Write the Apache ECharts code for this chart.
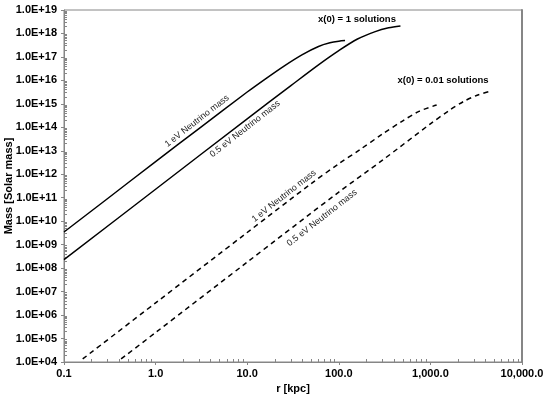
<!DOCTYPE html>
<html><head><meta charset="utf-8">
<script src="https://cdn.jsdelivr.net/npm/echarts@6/dist/echarts.min.js"></script>
<style>html,body{margin:0;padding:0;background:#fff}#c{width:546px;height:397px}</style>
</head><body><div id="c"></div><script>
// x(0) = 1 solutions
const rSolid1 = [0.1, 0.3, 1, 3, 10, 16, 25, 40, 60, 80, 100, 117];
const mSolid1 = [3.47e9, 9.3e10, 3.47e12, 9.1e13, 3.2e15, 1.2e16, 4.0e16, 1.26e17, 2.8e17, 4.0e17, 4.7e17, 5.0e17];
const rSolid2 = [0.1, 1, 10, 30, 60, 100, 160, 250, 350, 471];
const mSolid2 = [2.3e8, 2.3e11, 2.3e14, 6.0e15, 4.6e16, 1.86e17, 5.8e17, 1.2e18, 1.74e18, 2.1e18];
// x(0) = 0.01 solutions
const rDash1 = [0.16, 1, 10, 50, 100, 170, 300, 500, 750, 1170];
const mDash1 = [1.35e4, 3.3e6, 3.3e9, 4.0e11, 2.8e12, 1.12e13, 5.2e13, 1.9e14, 4.8e14, 8.9e14];
const rDash2 = [0.42, 1, 10, 100, 300, 1000, 1600, 2300, 3300, 4700];
const mDash2 = [1.35e4, 1.8e5, 1.8e8, 1.74e11, 4.0e12, 1.41e14, 5.2e14, 1.26e15, 2.4e15, 3.6e15];

const xMin = 0.1, xMax = 10000, yMin = 1e4, yMax = 1e19;
const xTickValues = [0.1, 1, 10, 100, 1000, 10000];
const xTickLabels = ['0.1', '1.0', '10.0', '100.0', '1,000.0', '10,000.0'];
const yExpMin = 4, yExpMax = 19;

const zip = (a, b) => a.map((v, i) => [v, b[i]]);
const minorLog = (d0, d1) => { const out = []; for (let d = d0; d < d1; d++) for (let k = 2; k <= 9; k++) out.push(Math.log10(k) + d); return out; };

const gray = '#868686';
const lbl = {fontFamily: 'Liberation Sans, Arial', fontWeight: 'bold', fontSize: 11, color: '#000'};
const nameStyle = {fontFamily: 'Liberation Sans, Arial', fontWeight: 'bold', fontSize: 11, color: '#000'};
const hiddenBase = {axisLine: {show: false, onZero: false}, splitLine: {show: false}};
const chart = echarts.init(document.getElementById('c'), null, {renderer: 'canvas'});
chart.setOption({
  animation: false,
  backgroundColor: '#fff',
  grid: {left: 64, right: 24, top: 10, bottom: 35, show: true, borderColor: gray, borderWidth: 1, containLabel: false, outerBoundsMode: 'none'},
  xAxis: [{
    type: 'log', logBase: 10, min: xMin, max: xMax, splitNumber: 5,
    axisLine: {show: true, onZero: false, lineStyle: {color: gray}},
    axisTick: {show: true, length: 3, lineStyle: {color: gray}},
    splitLine: {show: false},
    axisLabel: Object.assign({margin: 6, formatter: v => { const i = xTickValues.findIndex(t => Math.abs(Math.log10(t) - Math.log10(v)) < 1e-6); return i >= 0 ? xTickLabels[i] : ''; }}, lbl),
    name: 'r [kpc]', nameLocation: 'middle', nameGap: 21, nameTextStyle: nameStyle
  }, Object.assign({
    type: 'value', min: -1, max: 4, position: 'bottom', axisLabel: {show: false},
    axisTick: {show: true, inside: true, length: 3, customValues: minorLog(-1, 4), lineStyle: {color: gray}}
  }, hiddenBase)],
  yAxis: [{
    type: 'log', logBase: 10, min: yMin, max: yMax,
    axisLine: {show: true, onZero: false, lineStyle: {color: gray}},
    axisTick: {show: false}, axisLabel: {show: false},
    splitLine: {show: false},
    name: 'Mass [Solar mass]', nameLocation: 'middle', nameGap: 50, nameTextStyle: nameStyle
  }, Object.assign({
    type: 'value', min: yExpMin, max: yExpMax, interval: 1, position: 'left',
    axisTick: {show: true, length: 3, lineStyle: {color: gray}},
    axisLabel: Object.assign({margin: 7, formatter: v => '1.0E+' + String(Math.round(v)).padStart(2, '0')}, lbl)
  }, hiddenBase), Object.assign({
    type: 'value', min: yExpMin, max: yExpMax, position: 'left', axisLabel: {show: false},
    axisTick: {show: true, inside: true, length: 3, customValues: minorLog(yExpMin, yExpMax), lineStyle: {color: gray}}
  }, hiddenBase), {
    type: 'value', min: yExpMin, max: yExpMax, position: 'right',
    axisLine: {show: true, onZero: false, lineStyle: {color: gray, width: 2}},
    axisTick: {show: false}, axisLabel: {show: false}, splitLine: {show: false}
  }],
  series: [
    {name: '1 eV, x(0)=1', type: 'line', data: zip(rSolid1, mSolid1), smooth: 0.3, showSymbol: false, lineStyle: {color: '#000', width: 1.5}},
    {name: '0.5 eV, x(0)=1', type: 'line', data: zip(rSolid2, mSolid2), smooth: 0.3, showSymbol: false, lineStyle: {color: '#000', width: 1.5}},
    {name: '1 eV, x(0)=0.01', type: 'line', data: zip(rDash1, mDash1), smooth: 0.3, showSymbol: false, lineStyle: {color: '#000', width: 1.5, type: [5, 4]}},
    {name: '0.5 eV, x(0)=0.01', type: 'line', data: zip(rDash2, mDash2), smooth: 0.3, showSymbol: false, lineStyle: {color: '#000', width: 1.5, type: [5, 4]}}
  ],
  graphic: [
    {type: 'text', x: 357, y: 19, style: {text: 'x(0) = 1 solutions', font: 'bold 9.5px Liberation Sans, Arial', fill: '#000', align: 'center', verticalAlign: 'middle'}},
    {type: 'text', x: 443, y: 80, style: {text: 'x(0) = 0.01 solutions', font: 'bold 9.5px Liberation Sans, Arial', fill: '#000', align: 'center', verticalAlign: 'middle'}},
    {type: 'text', x: 197, y: 121, rotation: 38 * Math.PI / 180, style: {text: '1 eV Neutrino mass', font: '9px Liberation Sans, Arial', fill: '#222', align: 'center', verticalAlign: 'middle'}},
    {type: 'text', x: 245, y: 129, rotation: 38 * Math.PI / 180, style: {text: '0.5 eV Neutrino mass', font: '9px Liberation Sans, Arial', fill: '#222', align: 'center', verticalAlign: 'middle'}},
    {type: 'text', x: 284, y: 196, rotation: 38 * Math.PI / 180, style: {text: '1 eV Neutrino mass', font: '9px Liberation Sans, Arial', fill: '#222', align: 'center', verticalAlign: 'middle'}},
    {type: 'text', x: 322, y: 218, rotation: 38 * Math.PI / 180, style: {text: '0.5 eV Neutrino mass', font: '9px Liberation Sans, Arial', fill: '#222', align: 'center', verticalAlign: 'middle'}}
  ]
});
</script></body></html>
